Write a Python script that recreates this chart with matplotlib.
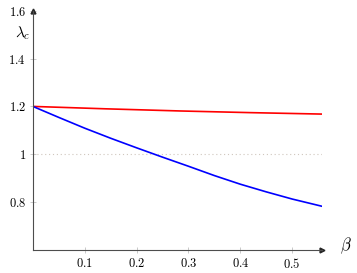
import matplotlib.pyplot as plt
from matplotlib.ticker import FixedLocator, FixedFormatter

plt.rcParams['mathtext.fontset'] = 'cm'
plt.rcParams['font.family'] = 'serif'
plt.rcParams['font.serif'] = ['DejaVu Serif']

# values
beta_blue = [0.0, 0.05, 0.1, 0.15, 0.2, 0.25, 0.3, 0.35, 0.4, 0.45, 0.5, 0.557]
lam_blue = [1.2, 1.154, 1.109, 1.067, 1.027, 0.988, 0.950, 0.911, 0.875, 0.843, 0.813, 0.783]
beta_red = [0.0, 0.14, 0.284, 0.42, 0.557]
lam_red = [1.2, 1.19, 1.181, 1.174, 1.168]

xticks = [0.1, 0.2, 0.3, 0.4, 0.5]
xlabels = ['0.1', '0.2', '0.3', '0.4', '0.5']
yticks = [0.8, 1.0, 1.2, 1.4, 1.6]
ylabels = ['0.8', '1', '1.2', '1.4', '1.6']

fig = plt.figure(figsize=(3.57, 2.73), dpi=100)
ax = fig.add_axes([32.9 / 357, 23 / 273, (321.7 - 32.9) / 357, (250 - 10.7) / 273])

ax.axhline(1.0, color='#cfc6bd', lw=0.8, ls=(0, (1, 2.5)))
ax.plot(beta_red, lam_red, color='red', lw=1.2)
ax.plot(beta_blue, lam_blue, color='blue', lw=1.2)

ax.set_xlim(0, 0.557)
ax.set_ylim(0.6, 1.6)

for s in ['top', 'right']:
    ax.spines[s].set_visible(False)
for s in ['left', 'bottom']:
    ax.spines[s].set_color('0.3')
    ax.spines[s].set_linewidth(0.8)

ax.plot(1, 0, marker='>', color='0.15', ms=3.5, transform=ax.transAxes, clip_on=False)
ax.plot(0, 1, marker='^', color='0.15', ms=3.5, transform=ax.transAxes, clip_on=False)

ax.xaxis.set_major_locator(FixedLocator(xticks))
ax.xaxis.set_major_formatter(FixedFormatter(['$' + t + '$' for t in xlabels]))
ax.yaxis.set_major_locator(FixedLocator(yticks))
ax.yaxis.set_major_formatter(FixedFormatter(['$' + t + '$' for t in ylabels]))
ax.tick_params(direction='inout', length=4, width=0.5, color='0.7', labelsize=9, pad=3)

fig.text(23 / 357, 1 - 33 / 273, r'$\lambda_c$', ha='center', va='center', fontsize=11)
fig.text(346 / 357, 1 - 246 / 273, r'$\beta$', ha='center', va='center', fontsize=12)

fig.savefig('out.png', dpi=100)
